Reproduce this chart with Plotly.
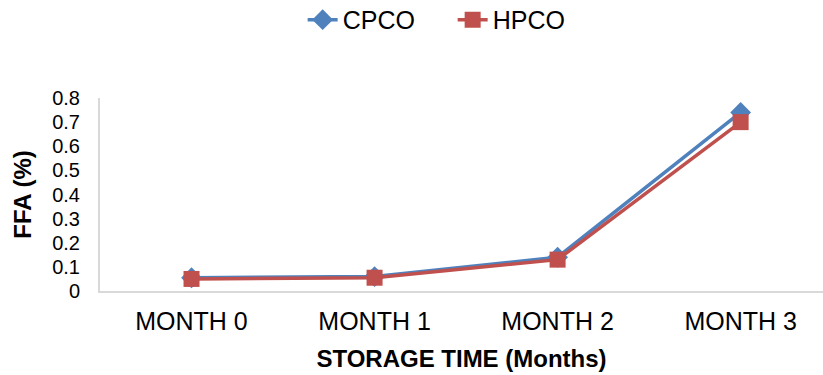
import plotly.graph_objects as go

categories = ["MONTH 0", "MONTH 1", "MONTH 2", "MONTH 3"]
cpco = [0.055, 0.06, 0.14, 0.74]
hpco = [0.05, 0.055, 0.13, 0.70]
y_ticks = [0, 0.1, 0.2, 0.3, 0.4, 0.5, 0.6, 0.7, 0.8]
y_tick_text = ["0", "0.1", "0.2", "0.3", "0.4", "0.5", "0.6", "0.7", "0.8"]

font = "Liberation Sans, Arial, sans-serif"

fig = go.Figure()
fig.add_trace(go.Scatter(
    x=categories, y=cpco, name="CPCO", mode="lines+markers",
    line=dict(color="#4f81bd", width=3.5),
    marker=dict(symbol="diamond", size=16, color="#4f81bd"),
))
fig.add_trace(go.Scatter(
    x=categories, y=hpco, name="HPCO", mode="lines+markers",
    line=dict(color="#c0504d", width=3.5),
    marker=dict(symbol="square", size=16, color="#c0504d"),
))

fig.update_layout(
    width=823, height=375,
    margin=dict(l=100, r=0, t=98, b=84, autoexpand=False),
    paper_bgcolor="white", plot_bgcolor="white",
    font=dict(family=font, size=25, color="black"),
    showlegend=True,
    legend=dict(orientation="h", xref="container", yref="container",
                x=0.55, y=0.947, xanchor="center", yanchor="middle",
                font=dict(size=25), tracegroupgap=0, entrywidth=105),
    xaxis=dict(
        type="category", range=[-0.5, 3.45], automargin=False,
        showline=True, linecolor="#d9d9d9", linewidth=2,
        showgrid=False, zeroline=False, ticks="",
        ticklabelstandoff=7,
        tickfont=dict(size=25),
        title=dict(text="<b>STORAGE TIME (Months)</b>", font=dict(size=24), standoff=16),
    ),
    yaxis=dict(
        range=[0, 0.8], tickvals=y_ticks, ticktext=y_tick_text, automargin=False,
        showline=True, linecolor="#d9d9d9", linewidth=2,
        showgrid=False, zeroline=False, ticks="",
        ticklabelstandoff=14,
        tickfont=dict(size=20),
        title=dict(text="<b>FFA (%)</b>", font=dict(size=24), standoff=14),
    ),
)

fig.write_html("out.html", config={"displayModeBar": False},
               post_script="document.body.style.margin='0';")
